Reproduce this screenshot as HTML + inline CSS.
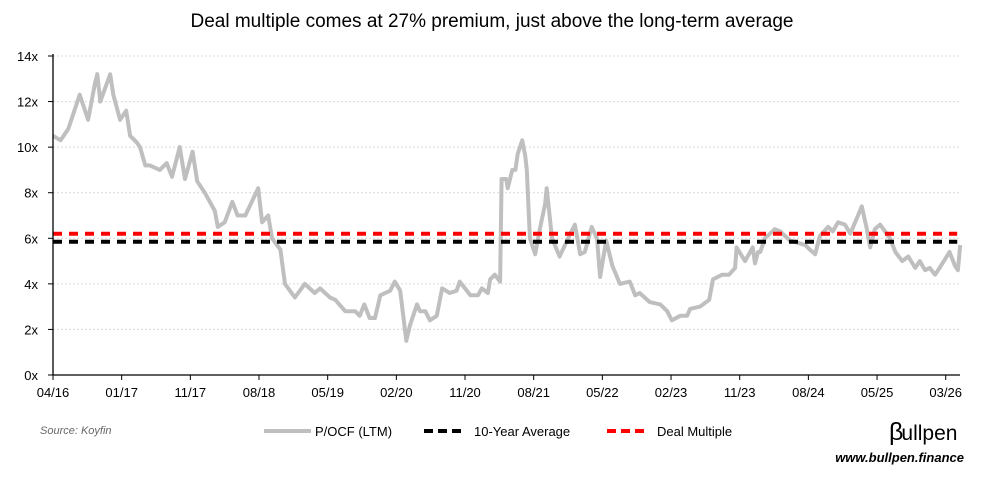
<!DOCTYPE html>
<html><head><meta charset="utf-8">
<style>
body{margin:0;background:#fff;font-family:"Liberation Sans",sans-serif;}
#wrap{position:relative;width:985px;height:477px;overflow:hidden;}
</style></head>
<body>
<div id="wrap">
<svg id="chart" width="985" height="477">
<text x="492" y="27" text-anchor="middle" font-size="19" fill="#000">Deal multiple comes at 27% premium, just above the long-term average</text>
<g id="grid"></g>
<g id="series"></g>
<g id="axes"></g>
<text x="40" y="434" font-size="11" font-style="italic" fill="#666">Source: Koyfin</text>
<g>
<g><line x1="264" y1="431" x2="311" y2="431" stroke="#bfbfbf" stroke-width="4"/><text x="315" y="436" font-size="13">P/OCF (LTM)</text></g>
<g><line x1="424" y1="431" x2="466" y2="431" stroke="#000" stroke-width="4" stroke-dasharray="9,5"/><text x="474" y="436" font-size="13">10-Year Average</text></g>
<g><line x1="607" y1="431" x2="649" y2="431" stroke="#f00" stroke-width="4" stroke-dasharray="9,5"/><text x="657" y="436" font-size="13">Deal Multiple</text></g>
</g>
<text x="889" y="440" font-size="25" fill="#000">β<tspan font-size="21" dx="-2">ullpen</tspan></text>
<text x="964" y="462" text-anchor="end" font-size="13" font-weight="bold" font-style="italic" fill="#000">www.bullpen.finance</text>
</svg>
</div>
<script>
const months = [0,1.0,2.0,3.5,4.6,5.5,5.8,6.2,7.5,7.9,8.8,9.6,10.1,11.0,11.4,12.1,12.7,14.0,14.9,15.6,16.6,17.3,18.3,18.9,19.9,21.2,21.6,22.5,23.5,24.2,25.2,26.9,27.4,28.2,28.7,29.8,30.4,31.7,33.0,34.3,35.0,36.3,37.0,38.3,39.6,40.2,40.8,41.5,42.2,42.9,44.2,44.8,45.5,46.3,46.8,47.7,48.1,48.8,49.4,50.3,51.0,52.0,52.9,53.3,54.7,55.7,56.2,57.0,57.3,57.9,58.6,58.8,59.4,59.6,60.2,60.6,60.9,61.5,61.9,62.1,62.5,63.2,63.8,64.5,64.7,65.4,66.4,67.8,68.4,69.1,69.7,70.6,71.3,71.7,72.5,73.3,74.3,75.6,76.3,76.9,78.2,79.6,80.5,81.1,82.2,83.1,83.5,84.8,86.0,86.5,87.7,88.6,89.4,89.6,90.7,91.7,92.0,92.4,92.7,93.3,94.6,95.3,96.6,97.6,98.6,99.2,99.9,100.5,101.6,102.2,102.9,103.8,104.5,105.5,106.0,106.6,107.1,107.7,108.4,109.7,110.4,111.3,112.1,113.0,113.6,114.3,114.9,115.6,116.2,117.5,118.2,118.6,118.9];
const pocf = [10.5,10.3,10.8,12.3,11.2,12.8,13.2,12.0,13.2,12.3,11.2,11.6,10.5,10.2,10.0,9.2,9.2,9.0,9.3,8.7,10.0,8.6,9.8,8.5,8.0,7.2,6.5,6.7,7.6,7.0,7.0,8.2,6.7,7.0,6.0,5.5,4.0,3.4,4.0,3.6,3.8,3.4,3.3,2.8,2.8,2.6,3.1,2.5,2.5,3.5,3.7,4.1,3.7,1.5,2.2,3.1,2.8,2.8,2.4,2.6,3.8,3.6,3.7,4.1,3.5,3.5,3.8,3.6,4.2,4.4,4.1,8.6,8.6,8.2,9.0,9.0,9.7,10.3,9.6,9.0,6.0,5.3,6.4,7.5,8.2,6.0,5.2,6.2,6.6,5.3,5.4,6.5,6.0,4.3,5.9,4.8,4.0,4.1,3.5,3.6,3.2,3.1,2.8,2.4,2.6,2.6,2.9,3.0,3.3,4.2,4.4,4.4,4.7,5.6,5.0,5.6,4.9,5.4,5.4,6.0,6.4,6.3,5.9,5.8,5.7,5.5,5.3,6.1,6.5,6.3,6.7,6.6,6.2,7.0,7.4,6.5,5.6,6.4,6.6,6.0,5.4,5.0,5.2,4.7,5.0,4.6,4.7,4.4,4.7,5.4,4.8,4.6,5.7];
const tenYearAverage = 5.85;
const dealMultiple = 6.2;
const yTicks = [0,2,4,6,8,10,12,14];
const xTickMonths = [0,9,18,27,36,45,54,63,72,81,90,99,108,117];
const xTickLabels = ["04/16","01/17","11/17","08/18","05/19","02/20","11/20","08/21","05/22","02/23","11/23","08/24","05/25","03/26"];

const NS = "http://www.w3.org/2000/svg";
const X0 = 53, X1 = 960, Y0 = 375, Y1 = 56;
const xMax = 118.9;
function xs(m){ return X0 + m * 7.63; }
function ys(v){ return Y0 - (v / 14) * (Y0 - Y1); }
function mk(tag, attrs, parent){ const e = document.createElementNS(NS, tag); for (const k in attrs) e.setAttribute(k, attrs[k]); parent.appendChild(e); return e; }

const grid = document.getElementById('grid');
const axes = document.getElementById('axes');
const series = document.getElementById('series');

yTicks.forEach(v => {
  if (v > 0) {
    const g = mk('line', {x1: X0, x2: X1, y1: ys(v), y2: ys(v), stroke: '#d9d9d9', 'stroke-width': 1, 'stroke-dasharray': '2,2'}, grid);
    
    
  }
  const t = mk('line', {x1: X0 - 5, x2: X0, y1: ys(v), y2: ys(v), stroke: '#000', 'stroke-width': 1}, axes);
  
  
  const l = mk('text', {x: X0 - 15, y: ys(v) + 5, 'text-anchor': 'end', 'font-size': 13}, axes);
  l.textContent = v + 'x';
  
  
});

xTickMonths.forEach((m, i) => {
  const t = mk('line', {x1: xs(m), x2: xs(m), y1: Y0, y2: Y0 + 5, stroke: '#000', 'stroke-width': 1}, axes);
  
  
  const l = mk('text', {x: xs(m), y: Y0 + 22, 'text-anchor': 'middle', 'font-size': 13}, axes);
  l.textContent = xTickLabels[i];
  
  
});

const ya = mk('line', {x1: X0, x2: X0, y1: Y1 - 2, y2: Y0, stroke: '#000', 'stroke-width': 1.3}, axes);


const xa = mk('line', {x1: X0, x2: X1, y1: Y0, y2: Y0, stroke: '#000', 'stroke-width': 1.3}, axes);



const pts = months.map((m, i) => xs(m).toFixed(1) + ',' + ys(pocf[i]).toFixed(1)).join(' ');
const pl = mk('polyline', {points: pts, fill: 'none', stroke: '#bfbfbf', 'stroke-width': 4, 'stroke-linejoin': 'round'}, series);



const avg = mk('line', {x1: X0, x2: xs(xMax) - 3, y1: ys(tenYearAverage), y2: ys(tenYearAverage), stroke: '#000', 'stroke-width': 4, 'stroke-dasharray': '9,7'}, series);


const deal = mk('line', {x1: X0, x2: xs(xMax) - 3, y1: ys(dealMultiple), y2: ys(dealMultiple), stroke: '#f00', 'stroke-width': 4, 'stroke-dasharray': '9,7'}, series);


</script>
</body></html>
